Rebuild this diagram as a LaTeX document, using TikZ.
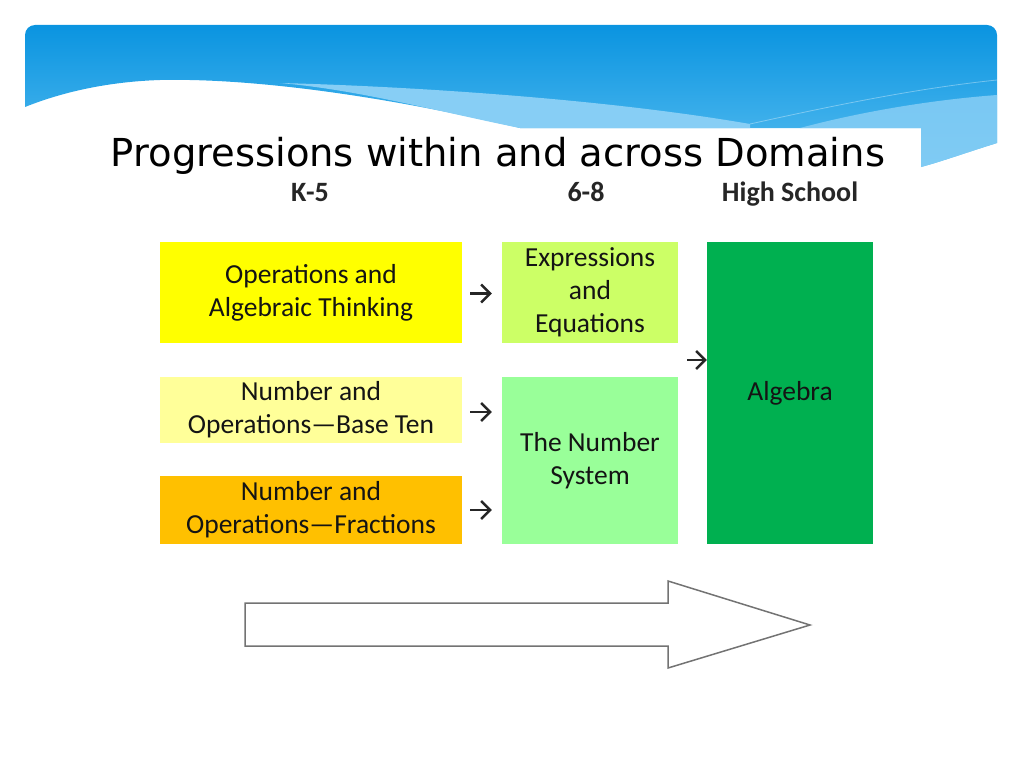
\documentclass[tikz,border=0pt]{standalone}
\usepackage{fontspec}
\setmainfont{Carlito}
\newfontfamily\titlefont{DejaVu Sans}
\usetikzlibrary{calc,arrows.meta,positioning}
\definecolor{bannertop}{RGB}{10,148,224}
\definecolor{bannerbot}{RGB}{85,188,240}
\definecolor{bannerlight}{RGB}{135,206,245}
\definecolor{oatcol}{RGB}{255,255,0}
\definecolor{nbtcol}{RGB}{255,255,153}
\definecolor{nfcol}{RGB}{255,192,0}
\definecolor{eecol}{RGB}{204,255,102}
\definecolor{nscol}{RGB}{153,255,153}
\definecolor{algcol}{RGB}{0,176,80}

\begin{document}
\begin{tikzpicture}[x=1pt,y=-1pt,
  domainbox/.style={inner sep=0pt,align=center,text=black!92,
    font=\fontsize{27.5}{33}\selectfont},
  colhead/.style={anchor=base,font=\bfseries\fontsize{28}{30}\selectfont,text=black!85},
  smallarr/.style={-{Straight Barb[length=9pt,width=18pt]},line width=2.4pt,black!85}]
  \useasboundingbox(0,0)rectangle(1024,768);
  % banner
  \shade[top color=bannertop,bottom color=bannerbot]
    (25,107)[rounded corners=10pt]--(25,25)--(997,25)[sharp corners]--(997,143)
    .. controls (965,153) and (940,162) .. (921,167)--(921,128)--(520,128)
    .. controls (380,95) and (250,78) .. (160,80)
    .. controls (100,82) and (55,95) .. (25,107);
  \fill[bannerlight](280,83) .. controls (400,86) and (600,98) .. (750,124)--(750,128)--(520,128)
    .. controls (440,112) and (360,90) .. (280,83);
  \fill[bannerlight,opacity=.85](800,128) .. controls (860,112) and (930,100) .. (997,95)--(997,143)
    .. controls (965,153) and (940,162) .. (921,167)--(921,128)--cycle;
  \draw[white,opacity=.35,line width=.8pt](750,124) .. controls (840,104) and (920,88) .. (997,80);
  \node[anchor=base,font=\titlefont\fontsize{38.5}{40}\selectfont](title)at(498,166)
    {Progressions within and across Domains};
  % column heads
  \node[colhead](k5)at(310,201){K-5};
  \node[colhead](g68)at(586,201){6-8};
  \node[colhead](hs)at(790,201){High School};
  % domains
  \node[domainbox,fill=oatcol,minimum width=302pt,minimum height=101pt](oat)at(311,292.5)
    {Operations and\\Algebraic Thinking};
  \node[domainbox,fill=nbtcol,minimum width=302pt,minimum height=66pt](nbt)at(311,410)
    {Number and\\Operations---Base Ten};
  \node[domainbox,fill=nfcol,minimum width=302pt,minimum height=68pt](nf)at(311,510)
    {Number and\\Operations---Fractions};
  \node[domainbox,fill=eecol,minimum width=176pt,minimum height=101pt](ee)at(590,292.5)
    {Expressions\\and\\Equations};
  \node[domainbox,fill=nscol,minimum width=176pt,minimum height=167pt](ns)at(590,460.5)
    {The Number\\System};
  \node[domainbox,fill=algcol,minimum width=166pt,minimum height=302pt](alg)at(790,393)
    {Algebra};
  % arrows
  \draw[smallarr,shorten <=8pt,shorten >=10pt]([yshift=-1pt]oat.east)--([yshift=-1pt]oat.east-|ee.west);
  \draw[smallarr,shorten <=8pt,shorten >=10pt]([yshift=-2pt]nbt.east)--([yshift=-2pt]nbt.east-|ns.west);
  \draw[smallarr,shorten <=8pt,shorten >=10pt](nf.east)--(nf.east-|ns.west);
  \coordinate(gap)at($(ee.south east)!.5!(ns.north east)$);
  \draw[smallarr,shorten <=9pt](gap)--(gap-|alg.west);
  % progression arrow
  \draw[line width=1.5pt,black!55](245,603)--(668,603)--(668,581)--(810,625)
    --(668,668)--(668,646)--(245,646)--cycle;
\end{tikzpicture}
\end{document}
